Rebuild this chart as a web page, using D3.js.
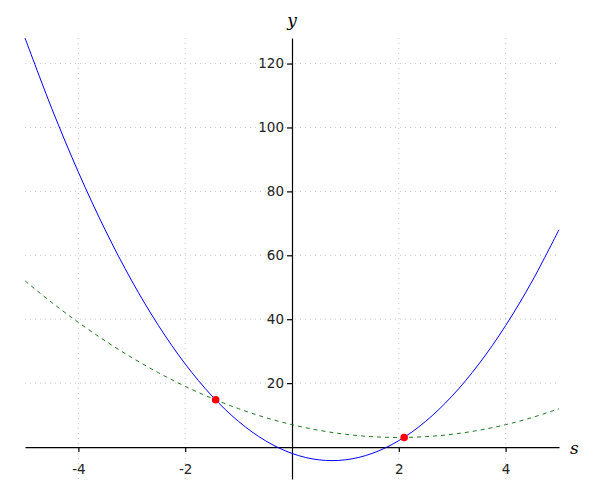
<!DOCTYPE html>
<html><head><meta charset="utf-8">
<script src="https://cdn.jsdelivr.net/npm/d3@7"></script>
<style>body{margin:0;background:#fff}</style>
</head><body>
<svg id="c" width="600" height="500"></svg>
<script>
const xs = [-5,-4.5,-4,-3.5,-3,-2.5,-2,-1.5,-1,-0.5,0,0.5,1,1.5,2,2.5,3,3.5,4,4.5,5];
const blueY = [128,106,86,68,52,38,26,16,8,2,-2,-4,-4,-2,2,8,16,26,38,52,68];
const greenY = [52,45.25,39,33.25,28,23.25,19,15.25,12,9.25,7,5.25,4,3.25,3,3.25,4,5.25,7,9.25,12];
const pointsX = [-1.43, 2.10];
const pointsY = [14.8, 3.0];
const xTicks = [-4,-2,2,4];
const yTicks = [20,40,60,80,100,120];

const svg = d3.select("#c");
const x = d3.scaleLinear().domain([-5,5]).range([25,559]);
const y = d3.scaleLinear().domain([-10,128]).range([479,38]);

// grid
const g = svg.append("g");
g.selectAll("line.gx").data(xTicks).join("line")
  .attr("x1", d=>x(d)).attr("x2", d=>x(d)).attr("y1", y(128)).attr("y2", y(-10))
  .attr("stroke","#c8c8c8").attr("stroke-width",1).attr("stroke-dasharray","1,4");
g.selectAll("line.gy").data(yTicks).join("line")
  .attr("y1", d=>y(d)).attr("y2", d=>y(d)).attr("x1", x(-5)).attr("x2", x(5))
  .attr("stroke","#c8c8c8").attr("stroke-width",1).attr("stroke-dasharray","1,4");

// axes
const fmt = d => String(d);
const xAxis = d3.axisBottom(x).tickValues(xTicks).tickFormat(fmt).tickSize(5).tickPadding(12).tickSizeOuter(0);
const yAxis = d3.axisLeft(y).tickValues(yTicks).tickFormat(fmt).tickSize(5).tickPadding(3).tickSizeOuter(0);
const ax = svg.append("g").attr("transform", `translate(0,${y(0)})`).call(xAxis);
const ay = svg.append("g").attr("transform", `translate(${x(0)},0)`).call(yAxis);
[ax, ay].forEach(a => {
  a.select(".domain").attr("stroke","#000").attr("stroke-width",1.2);
  a.selectAll(".tick line").attr("stroke","#000").attr("stroke-width",1.2);
  a.selectAll(".tick text").attr("fill","#222").attr("font-family","DejaVu Sans, sans-serif").attr("font-size",13.5);
});
ax.selectAll(".tick text").attr("dy","0.71em");

// curves
const line = d3.line().x((d,i)=>x(xs[i])).y(d=>y(d)).curve(d3.curveCardinal.tension(0));
svg.append("path").attr("d", line(greenY)).attr("fill","none").attr("stroke","#1e7a1e")
  .attr("stroke-width",1).attr("stroke-dasharray","4,4");
svg.append("path").attr("d", line(blueY)).attr("fill","none").attr("stroke","#0000ff")
  .attr("stroke-width",1);

// points
svg.selectAll("circle").data(pointsX).join("circle")
  .attr("cx", d=>x(d)).attr("cy", (d,i)=>y(pointsY[i])).attr("r",3.8).attr("fill","#ff0000");

// labels
svg.append("text").attr("x", x(0)).attr("y", 26).attr("text-anchor","middle")
  .attr("font-family","DejaVu Serif, serif").attr("font-style","italic").attr("font-size",17).text("y");
svg.append("text").attr("x", 570).attr("y", y(0)+7).attr("text-anchor","start")
  .attr("font-family","DejaVu Serif, serif").attr("font-style","italic").attr("font-size",17).text("s");
</script>
</body></html>
